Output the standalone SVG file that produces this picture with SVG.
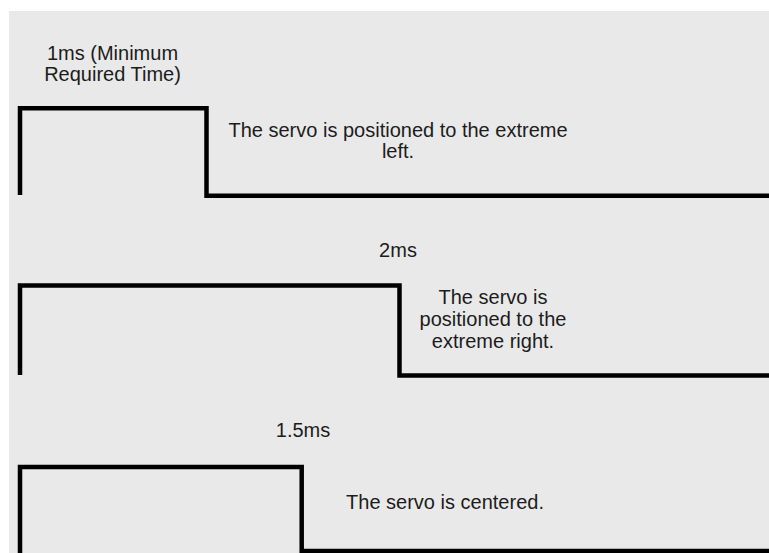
<svg xmlns="http://www.w3.org/2000/svg" width="769" height="553" viewBox="0 0 769 553">
  <style>
    .bg { fill: #e9e9e9; }
    .wave { fill: none; stroke: #000000; stroke-width: 4.5; stroke-linejoin: miter; stroke-linecap: butt; }
    .lbl { font-family: "Liberation Sans", Arial, sans-serif; font-size: 20px; fill: #1c1c1c; text-anchor: middle; }
  </style>
  <rect x="0" y="0" width="769" height="553" fill="#ffffff"/>
  <rect class="bg" x="9" y="11" width="760" height="542"/>

  <g id="pulse-1ms">
    <path class="wave" d="M20,195 V108.3 H206.5 V195.7 H769"/>
    <text class="lbl" x="112.5" y="59.5">1ms (Minimum</text>
    <text class="lbl" x="112.5" y="80.5">Required Time)</text>
    <text class="lbl" x="398" y="136.5">The servo is positioned to the extreme</text>
    <text class="lbl" x="398" y="157.5">left.</text>
  </g>

  <g id="pulse-2ms">
    <path class="wave" d="M20,375 V285.5 H399.5 V375.5 H769"/>
    <text class="lbl" x="398" y="257">2ms</text>
    <text class="lbl" x="493" y="304">The servo is</text>
    <text class="lbl" x="493" y="326">positioned to the</text>
    <text class="lbl" x="493" y="348">extreme right.</text>
  </g>

  <g id="pulse-1-5ms">
    <path class="wave" d="M20,553 V467 H301.7 V551 H769"/>
    <text class="lbl" x="303" y="437">1.5ms</text>
    <text class="lbl" x="445" y="509">The servo is centered.</text>
  </g>
</svg>
